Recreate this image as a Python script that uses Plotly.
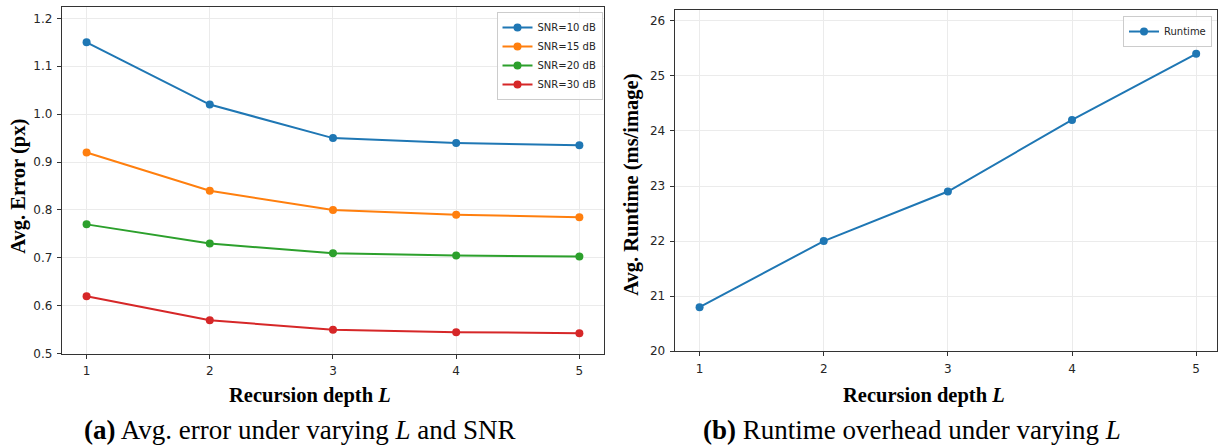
import plotly.graph_objects as go

W, H = 1218, 445
K = 1.0 / 0.983  # vertical compensation observed in rendering

depth = [1, 2, 3, 4, 5]
snr_labels = ["SNR=10 dB", "SNR=15 dB", "SNR=20 dB", "SNR=30 dB"]
err_snr10 = [1.15, 1.02, 0.95, 0.94, 0.935]
err_snr15 = [0.92, 0.84, 0.80, 0.79, 0.785]
err_snr20 = [0.77, 0.73, 0.71, 0.705, 0.703]
err_snr30 = [0.62, 0.57, 0.55, 0.545, 0.543]
runtime = [20.8, 22.0, 22.9, 24.2, 25.4]
err_yticks = [0.5, 0.6, 0.7, 0.8, 0.9, 1.0, 1.1, 1.2]
rt_yticks = [20, 21, 22, 23, 24, 25, 26]

colors = ["#1f77b4", "#ff7f0e", "#2ca02c", "#d62728"]

def px_x(p):
    return p / W

def px_y(p):
    return 1 - (p * K) / H

fig = go.Figure()

for name, vals, c in zip(snr_labels, [err_snr10, err_snr15, err_snr20, err_snr30], colors):
    fig.add_trace(go.Scatter(x=depth, y=vals, name=name, mode="lines+markers",
                             line=dict(color=c, width=2), marker=dict(color=c, size=8),
                             xaxis="x", yaxis="y", legend="legend"))

fig.add_trace(go.Scatter(x=depth, y=runtime, name="Runtime", mode="lines+markers",
                         line=dict(color=colors[0], width=2), marker=dict(color=colors[0], size=8),
                         xaxis="x2", yaxis="y2", legend="legend2"))

tickfont = dict(family="DejaVu Sans", size=12, color="#262626")
axis_common = dict(showline=True, linecolor="#333333", linewidth=1.2, mirror=True,
                   ticks="outside", ticklen=4, tickwidth=1, tickcolor="#333333",
                   showgrid=True, gridcolor="#ebebeb", gridwidth=1, zeroline=False,
                   tickfont=tickfont, ticklabelstandoff=2)

fig.update_layout(
    width=W, height=H,
    margin=dict(l=0, r=0, t=0, b=0),
    paper_bgcolor="white", plot_bgcolor="white",
    xaxis=dict(domain=[px_x(62), px_x(604.5)], range=[0.8, 5.2], tickvals=depth,
               anchor="y", **axis_common),
    yaxis=dict(domain=[px_y(353.3), px_y(7)], range=[0.5, 1.2236], tickvals=err_yticks,
               tickformat=".1f", anchor="x", **axis_common),
    xaxis2=dict(domain=[px_x(675.3), 1.0], range=[0.8, 0.8 + (W - 675.3) / 124.25], tickvals=depth,
                anchor="y2", **axis_common),
    yaxis2=dict(domain=[px_y(350.8), px_y(10)], range=[20, 26.195], tickvals=rt_yticks,
                anchor="x2", **axis_common),
    legend=dict(x=px_x(603), xanchor="right", y=px_y(12), yanchor="top",
                bgcolor="rgba(255,255,255,0.85)", bordercolor="#cccccc", borderwidth=1,
                font=dict(family="DejaVu Sans", size=10, color="#262626"), itemwidth=30,
                tracegroupgap=0),
    legend2=dict(x=px_x(1213), xanchor="right", y=px_y(16), yanchor="top",
                 bgcolor="rgba(255,255,255,0.85)", bordercolor="#cccccc", borderwidth=1,
                 font=dict(family="DejaVu Sans", size=10, color="#262626"), itemwidth=30),
    showlegend=True,
)

serif_bold = dict(family="Liberation Serif", size=20.5, color="black", weight="bold")
serif_cap = dict(family="Liberation Serif", size=27, color="black")

annotations = [
    dict(text="Avg. Error (px)", x=px_x(18.5), y=px_y(186), textangle=-90, font=serif_bold),
    dict(text="Avg. Runtime (ms/image)", x=px_x(632), y=px_y(184), textangle=-90, font=serif_bold),
    dict(text="Recursion depth <i>L</i>", x=px_x(310), y=px_y(395), font=serif_bold),
    dict(text="Recursion depth <i>L</i>", x=px_x(925), y=px_y(395), font=serif_bold),
    dict(text="<b>(a)</b> Avg. error under varying <i>L</i> and SNR", x=px_x(300), y=px_y(429), font=serif_cap),
    dict(text="<b>(b)</b> Runtime overhead under varying <i>L</i>", x=px_x(913), y=px_y(429), font=serif_cap),
]
for a in annotations:
    a.update(xref="paper", yref="paper", showarrow=False, xanchor="center", yanchor="middle")
fig.update_layout(annotations=annotations)

fig.write_html("out.html")
